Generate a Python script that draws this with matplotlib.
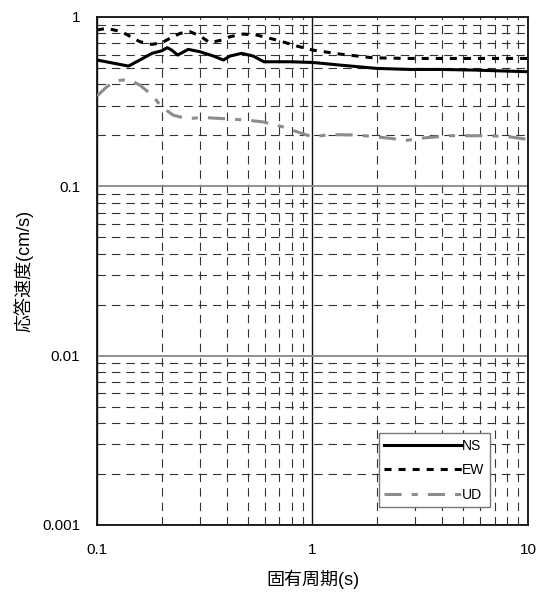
import numpy as np
import matplotlib
import matplotlib.pyplot as plt
from matplotlib.ticker import LogLocator, FixedLocator, NullFormatter

matplotlib.use("Agg")

plt.rcParams['font.family'] = ['Liberation Sans', 'Noto Sans CJK JP', 'DejaVu Sans']

# periods (s) and response velocity (cm/s)
ns_t = [0.1, 0.14, 0.158, 0.18, 0.2, 0.212, 0.222, 0.237, 0.265, 0.301, 0.347, 0.386,
        0.414, 0.469, 0.531, 0.595, 0.787, 1.0, 1.34, 1.99, 2.83, 3.91, 5.57, 10.0]
ns_v = [0.557, 0.513, 0.557, 0.61, 0.632, 0.659, 0.638, 0.596, 0.644, 0.623, 0.588, 0.557,
        0.588, 0.61, 0.588, 0.544, 0.544, 0.539, 0.52, 0.497, 0.49, 0.49, 0.486, 0.475]

ew_t = [0.1, 0.111, 0.13, 0.158, 0.18, 0.2, 0.218, 0.243, 0.27, 0.301, 0.334, 0.379,
        0.414, 0.477, 0.551, 0.682, 0.845, 1.0, 1.34, 1.91, 2.83, 4.67, 10.0]
ew_v = [0.838, 0.857, 0.819, 0.715, 0.689, 0.705, 0.748, 0.8, 0.819, 0.772, 0.705, 0.731,
        0.765, 0.793, 0.782, 0.731, 0.674, 0.638, 0.604, 0.574, 0.569, 0.569, 0.569]

ud_t = [0.1, 0.111, 0.123, 0.14, 0.158, 0.18, 0.2, 0.226, 0.261, 0.311, 0.386, 0.495,
        0.592, 0.732, 0.876, 1.0, 1.205, 1.6, 2.13, 2.74, 3.27, 4.35, 6.66, 8.25, 10.0]
ud_v = [0.341, 0.387, 0.42, 0.428, 0.396, 0.346, 0.294, 0.263, 0.251, 0.255, 0.251, 0.246,
        0.24, 0.224, 0.207, 0.196, 0.202, 0.201, 0.194, 0.187, 0.193, 0.199, 0.199, 0.196, 0.189]

fig = plt.figure(figsize=(5.37, 5.92), dpi=100)
ax = fig.add_axes([0.1806, 0.1132, 0.8026, 0.8581])

ax.plot(ns_t, ns_v, color='black', lw=2.2, label='NS', zorder=3)
ax.plot(ew_t, ew_v, color='black', lw=2.2, linestyle=(0, (2.3, 2.3)), label='EW', zorder=3)
ax.plot(ud_t, ud_v, color='#8c8c8c', lw=2.2, linestyle=(0, (5.6, 3.3, 2, 3.3)), label='UD', zorder=3)

ax.set_xscale('log')
ax.set_yscale('log')
ax.set_xlim(0.1, 10)
ax.set_ylim(0.001, 1)

ax.xaxis.set_major_locator(FixedLocator([0.1, 1, 10]))
ax.yaxis.set_major_locator(FixedLocator([0.001, 0.01, 0.1, 1]))
ax.xaxis.set_minor_locator(LogLocator(base=10, subs=np.arange(2, 10)))
ax.yaxis.set_minor_locator(LogLocator(base=10, subs=np.arange(2, 10)))
ax.xaxis.set_minor_formatter(NullFormatter())
ax.yaxis.set_minor_formatter(NullFormatter())
ax.set_xticklabels(['0.1', '1', '10'])
ax.set_yticklabels(['0.001', '0.01', '0.1', '1'])

# grid: solid majors, dashed minors
ax.xaxis.grid(True, which='major', color='#111111', lw=1.0, linestyle='-')
ax.yaxis.grid(True, which='major', color='#888888', lw=1.3, linestyle='-')
ax.grid(which='minor', color='#333333', lw=0.8, linestyle=(0, (7.6, 5.4)))
ax.tick_params(which='both', length=0, labelsize=11)
ax.tick_params(axis='x', pad=13)
ax.tick_params(axis='y', pad=12)
for s in ax.spines.values():
    s.set_linewidth(1.3)
    s.set_color('#111111')

ax.set_xlabel('固有周期(s)', fontsize=13, labelpad=9)
ax.set_ylabel('応答速度(cm/s)', fontsize=13, labelpad=6)

leg = ax.legend(loc='lower right', bbox_to_anchor=(0.912, 0.035), fontsize=10,
                handlelength=5.6, handletextpad=0.0, labelspacing=0.75,
                borderaxespad=0, fancybox=False, framealpha=1,
                edgecolor='#777777', borderpad=0.4)
leg.get_frame().set_linewidth(1.0)

plt.savefig("out.png", dpi=100)
